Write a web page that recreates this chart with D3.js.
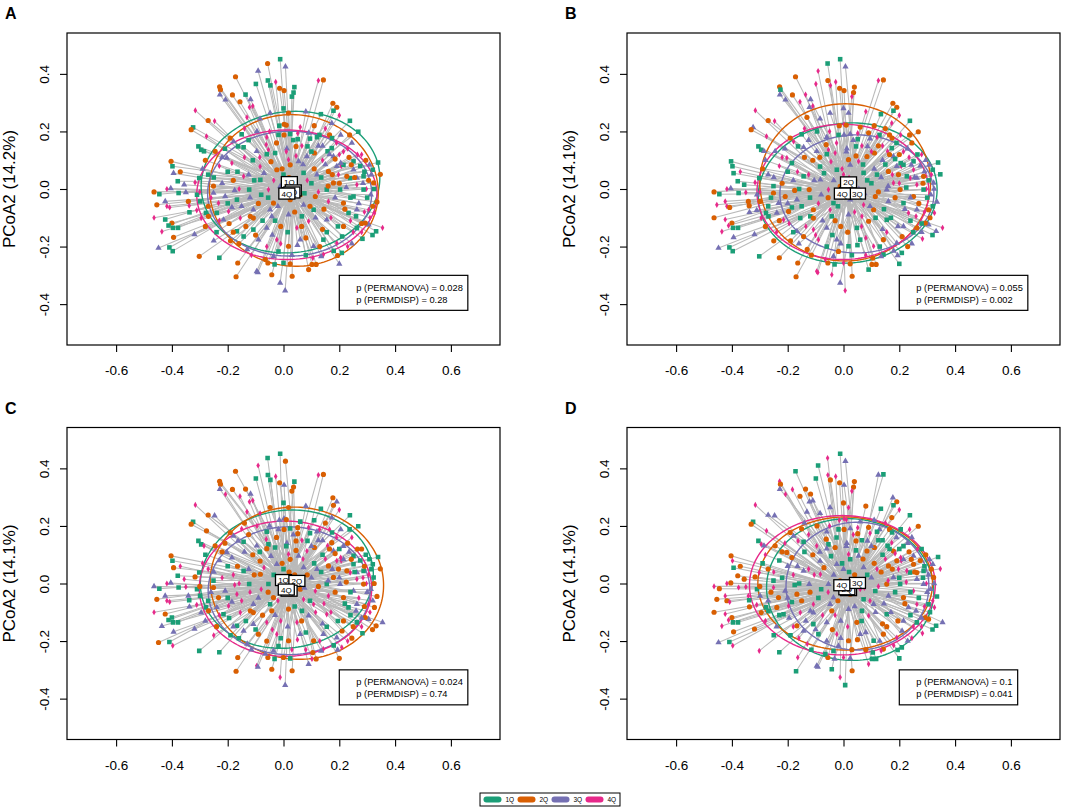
<!DOCTYPE html>
<html><head><meta charset="utf-8">
<script src="https://cdn.jsdelivr.net/npm/d3@7"></script>
<style>body{margin:0;background:#fff} svg{display:block;font-family:"Liberation Sans",Arial,sans-serif}</style>
</head><body><svg id="chart" width="1084" height="812"></svg>
<script>
// ---------------- DATA ----------------
const groupNames = ["1Q","2Q","3Q","4Q"];
const groupColors = ["#1b9e77","#d95f02","#7570b3","#e7298a"];
const xTicks = [-0.6,-0.4,-0.2,0.0,0.2,0.4,0.6];
const yTicks = [-0.4,-0.2,0.0,0.2,0.4];
const panelLetters = ["A","B","C","D"];
const yTitles = ["PCoA2 (14.2%)","PCoA2 (14.1%)","PCoA2 (14.1%)","PCoA2 (14.1%)"];
const permanovaP = ["0.028","0.055","0.024","0.1"];
const permdispP = ["0.28","0.002","0.74","0.041"];

const pcoa1 = [
-0.012,0.007,-0.057,-0.091,-0.172,-0.028,-0.099,-0.056,-0.047,-0.014,
0.002,0.039,0.036,0.030,-0.229,-0.226,-0.228,-0.183,-0.136,-0.118,
-0.156,-0.208,-0.110,-0.122,0.125,0.143,0.177,0.191,0.179,0.200,
0.080,0.134,0.018,-0.048,-0.131,-0.316,-0.270,-0.247,-0.084,0.238,
0.002,0.010,0.173,-0.324,-0.331,0.268,-0.276,-0.018,0.002,0.024,
0.051,0.165,0.129,0.174,0.237,0.205,-0.305,-0.295,-0.285,-0.191,
-0.179,-0.163,-0.143,-0.062,-0.054,-0.096,-0.060,0.012,0.045,0.051,
0.086,0.066,0.125,0.158,0.173,0.111,0.179,0.185,0.191,0.251,
0.243,0.207,0.308,0.339,0.320,0.347,0.287,0.263,0.239,0.197,
-0.403,-0.398,-0.394,-0.370,-0.379,-0.376,-0.404,-0.418,-0.464,-0.445,
-0.424,-0.454,-0.418,-0.408,-0.464,-0.424,-0.400,-0.412,-0.396,-0.378,
-0.436,-0.448,-0.409,-0.397,-0.394,-0.356,-0.350,-0.341,-0.338,-0.337,
-0.302,-0.317,-0.310,-0.299,-0.311,-0.278,-0.269,-0.295,-0.302,-0.319,
-0.230,-0.164,-0.170,-0.096,-0.092,-0.056,-0.042,-0.012,0.006,0.031,
0.000,-0.032,0.024,0.102,0.117,0.143,0.135,0.194,0.209,0.245,
0.283,0.319,0.332,0.355,0.305,0.293,0.326,0.335,0.313,0.297,
-0.203,-0.123,-0.159,-0.083,-0.012,-0.054,-0.185,-0.167,-0.108,-0.119,
-0.048,0.024,0.114,0.120,0.155,0.179,0.227,0.203,0.161,0.215,
0.233,0.263,0.305,0.287,0.323,0.263,0.251,0.155,0.215,0.263,
0.280,0.060,0.108,0.143,0.191,0.048,0.018,0.066,0.090,-0.060,
-0.042,-0.108,-0.108,-0.155,-0.167,-0.143,-0.090,-0.024,0.018,-0.018,
-0.036,-0.084,-0.030,0.018,0.024,0.072,0.084,0.095,0.054,0.161,
0.150,0.200,0.215,0.251,0.290,0.305,-0.125,-0.110,-0.024,-0.080,
-0.143,-0.251,-0.233,-0.251,-0.209,-0.245,-0.197,-0.215,-0.239,-0.036,
0.108,0.072,-0.200,-0.230,-0.180,0.040,0.100,0.140,0.060,-0.010,
0.140,0.240,-0.060,0.080,-0.130,-0.190,0.230,-0.150,-0.050,0.110,
0.280,-0.270,-0.280,0.000,0.200,
-0.280,-0.260,-0.240,-0.220,-0.210,-0.195,-0.185,-0.175,-0.165,-0.160,
-0.150,-0.140,-0.135,-0.125,-0.120,-0.115,-0.105,-0.100,-0.095,-0.090,
-0.085,-0.075,-0.070,-0.065,-0.060,-0.055,-0.045,-0.040,-0.035,-0.030,
-0.025,-0.020,-0.015,-0.010,-0.005,0.005,0.010,0.015,0.020,0.030,
0.035,0.040,0.045,0.050,0.055,0.060,0.065,0.070,0.075,0.080,
0.085,0.090,0.095,0.100,0.105,0.110,0.115,0.120,0.125,0.130,
0.135,0.140,0.145,0.150,0.155,0.160,0.165,0.170,0.175,0.180,
0.185,0.190,0.195,0.200,0.205,0.210,0.215,0.220,0.225,0.230,
0.235,0.240,0.245,0.250,0.255,0.260,0.265,0.270,0.275,0.280,
0.285,0.290,0.295,0.300,0.310,0.315,0.320,0.325,-0.290,-0.300,
-0.270,-0.250,-0.230,-0.220,-0.200,-0.180,-0.250,-0.140,0.000,0.090
];
const pcoa2 = [
0.451,0.425,0.436,0.410,0.390,0.372,0.365,0.377,0.360,0.350,
0.342,0.354,0.335,0.321,0.355,0.345,0.328,0.327,0.328,0.311,
0.303,0.310,0.288,0.284,0.377,0.379,0.298,0.284,0.272,0.256,
0.269,0.260,0.264,0.264,0.249,0.273,0.238,0.236,0.244,0.237,
0.225,0.222,0.229,0.214,0.206,0.199,0.183,0.188,0.188,0.191,
0.194,0.188,0.188,0.177,0.188,0.188,0.148,0.136,0.131,0.177,
0.165,0.148,0.145,0.154,0.136,0.131,0.121,0.140,0.148,0.173,
0.148,0.150,0.150,0.131,0.142,0.125,0.113,0.104,0.079,0.096,
0.084,0.079,0.084,0.092,0.067,0.051,0.044,0.038,0.038,0.050,
0.096,0.079,0.055,0.060,0.027,-0.014,0.002,0.000,-0.010,-0.018,
-0.043,-0.055,-0.060,-0.064,-0.100,-0.106,-0.118,-0.127,-0.135,-0.135,
-0.148,-0.205,-0.203,-0.216,-0.168,0.015,-0.012,-0.043,-0.058,-0.081,
0.038,0.023,-0.020,-0.043,-0.074,-0.083,-0.095,-0.101,-0.234,-0.158,
-0.239,-0.257,-0.305,-0.286,-0.290,-0.257,-0.298,-0.326,-0.353,-0.303,
-0.257,-0.262,-0.260,-0.262,-0.262,-0.228,-0.234,-0.231,-0.222,-0.190,
-0.173,-0.160,-0.147,-0.135,-0.124,-0.118,-0.083,-0.045,-0.020,0.000,
0.108,-0.002,0.000,0.032,0.009,-0.002,-0.064,-0.037,-0.072,-0.095,
-0.072,-0.037,-0.026,0.050,-0.002,0.021,0.044,-0.002,-0.043,-0.049,
-0.083,-0.072,-0.072,-0.002,0.021,0.015,-0.026,-0.107,-0.130,-0.135,
-0.150,-0.176,-0.199,-0.176,-0.188,-0.135,-0.089,-0.095,-0.112,-0.135,
-0.095,-0.141,-0.101,-0.101,-0.147,-0.165,-0.176,-0.176,-0.199,-0.217,
-0.234,0.078,0.125,0.102,0.084,0.056,0.113,0.175,0.096,0.061,
0.085,0.120,0.084,0.067,0.060,0.030,0.050,0.100,0.067,-0.020,
0.044,-0.014,-0.049,0.010,-0.026,0.131,-0.078,-0.107,-0.083,-0.049,
-0.072,-0.055,0.060,0.080,0.030,0.030,0.020,0.100,-0.020,-0.130,
-0.140,-0.110,-0.200,-0.230,-0.210,-0.180,0.140,0.190,0.200,0.220,
0.120,0.050,-0.130,0.050,-0.260,
0.100,-0.030,-0.150,0.020,0.140,-0.120,0.090,-0.005,0.060,-0.190,
-0.060,0.110,-0.130,0.170,-0.030,-0.230,0.030,-0.160,0.200,-0.050,
0.110,-0.110,0.055,-0.245,0.180,-0.030,0.095,-0.160,0.030,-0.110,
0.160,-0.060,0.220,-0.190,0.070,-0.020,0.130,-0.150,0.040,-0.230,
0.170,-0.080,0.115,-0.195,0.000,0.215,-0.130,0.085,-0.015,-0.170,
0.030,0.195,-0.060,0.130,-0.240,0.070,-0.100,0.180,-0.010,-0.200,
0.040,0.150,-0.070,0.210,-0.150,0.010,0.120,-0.100,0.050,-0.215,
-0.030,0.160,-0.130,0.020,0.090,-0.165,0.130,-0.070,0.005,-0.200,
0.110,-0.030,0.160,-0.150,0.040,-0.095,0.120,-0.050,0.080,-0.120,
0.020,-0.080,0.100,-0.030,-0.100,0.050,-0.060,0.000,0.070,-0.010,
-0.060,0.040,-0.110,0.110,-0.050,-0.150,-0.180,0.210,0.280,-0.280
];
const groupsA = [
1,3,2,3,2,4,1,1,1,2, 2,1,1,1,2,2,3,2,1,3, 2,3,4,4,4,2,2,2,1,4, 3,1,2,3,4,4,2,4,3,1,
2,2,3,1,2,1,4,1,2,1, 4,2,1,1,2,3,1,1,1,2, 3,1,1,4,4,3,1,3,2,1, 1,4,3,1,1,2,3,2,3,1,
2,4,3,1,1,2,1,3,1,4, 2,1,3,2,1,1,3,4,2,1, 3,2,4,4,4,1,2,1,1,1, 4,3,1,1,2,3,3,2,4,1,
1,4,1,1,4,1,2,4,2,3, 1,2,2,3,3,2,2,3,3,2, 1,1,2,2,2,4,3,2,1,3, 1,1,1,4,3,2,4,2,3,4,
3,1,4,1,3,4,3,1,3,2, 3,2,2,3,1,2,2,1,4,2, 1,3,4,1,2,4,1,3,2,1, 4,3,3,1,4,4,3,1,4,3,
3,1,2,4,1,1,3,4,2,1, 3,4,1,4,2,1,3,1,3,2, 3,4,1,3,1,2,3,1,2,1, 4,3,4,2,3,2,4,3,1,2,
1,3,1,4,2,4,1,4,2,2, 2,4,4,1,3,2,4,1,4,2, 4,1,2,1,3,
2,4,1,3,1,2,4,3,1,2, 3,4,2,1,3,4,1,2,3,2, 4,1,3,2,4,1,2,3,4,1, 2,3,1,4,2,3,4,1,2,3,
1,2,4,3,1,4,2,3,1,2, 4,3,2,1,4,2,3,1,4,2, 1,3,2,4,1,2,3,4,2,1, 3,4,1,2,3,1,4,2,3,4,
2,1,3,4,2,1,4,3,1,2, 3,4,2,1,4,3,2,1,3,4, 2,1,4,3,1,2,3,4,1,2
];
const groupsB = [
1,3,1,4,2,4,4,2,4,2, 2,2,2,4,2,1,3,2,4,3, 4,3,4,3,4,2,2,2,1,4, 4,1,3,3,2,4,2,4,3,1,
4,2,4,3,2,2,4,1,3,3, 4,2,1,2,2,4,1,1,3,2, 4,1,3,2,4,3,1,3,1,1, 3,4,2,4,1,2,3,1,3,1,
3,4,3,1,1,1,2,3,4,2, 1,1,1,4,1,1,3,4,2,1, 4,4,4,2,2,4,2,4,1,1, 4,3,1,1,3,1,4,2,2,3,
1,4,3,2,3,1,1,4,1,3, 2,2,2,4,4,2,4,3,4,2, 4,1,2,2,2,1,3,3,1,3, 4,1,3,4,3,2,4,3,3,4,
4,2,1,3,2,4,1,3,2,1, 4,3,2,1,3,4,1,2,3,1, 4,3,2,1,3,4,2,1,3,2, 3,1,4,2,3,1,3,4,2,3,
1,4,2,1,3,2,4,3,1,2, 3,1,4,2,3,1,2,3,4,2, 1,2,1,4,3,1,4,2,1,3, 1,2,3,1,2,3,2,4,3,1,
2,4,1,4,3,2,1,3,1,2, 3,1,1,4,2,2,3,1,4,2, 4,3,2,4,1,
3,1,4,2,3,4,1,2,4,3, 1,2,4,3,1,2,3,4,1,4, 2,3,1,4,3,2,4,1,3,2, 4,1,2,3,4,1,3,2,4,1,
3,4,2,1,3,2,4,1,3,4, 1,2,3,4,2,3,1,4,2,1, 3,4,1,2,4,3,2,1,4,3, 2,1,3,4,1,2,4,3,1,2,
4,3,2,1,3,4,1,2,3,1, 2,4,3,1,2,4,1,3,2,4, 1,3,2,4,3,1,2,4,3,1
];
const groupsC = [
1,2,1,4,2,4,1,1,1,2, 3,1,2,2,2,2,3,2,2,3, 4,4,4,4,4,2,2,3,2,4, 3,1,2,2,4,4,2,3,4,1,
3,2,3,1,2,1,2,3,2,1, 2,4,4,1,1,3,1,1,4,2, 3,3,1,4,1,3,2,3,2,2, 1,4,3,4,2,2,3,2,4,1,
2,4,1,1,1,2,1,3,4,2, 2,1,2,4,1,1,3,4,3,1, 3,2,4,4,4,2,1,1,1,1, 3,2,1,4,3,4,4,3,1,3,
1,2,1,1,4,1,2,3,1,3, 1,2,2,4,3,2,2,4,3,2, 2,1,1,4,2,4,3,3,4,2, 1,2,2,3,3,2,2,2,3,4,
3,1,4,2,3,1,3,4,3,2, 1,2,4,3,1,2,2,3,4,2, 1,3,4,2,1,4,3,4,2,1, 4,3,2,3,3,4,2,1,3,4,
2,3,2,4,1,3,2,4,2,1, 3,2,1,4,2,3,4,1,3,2, 4,1,3,1,2,4,3,2,3,4, 1,2,2,1,3,2,4,1,3,2,
4,4,1,3,4,2,3,1,2,4, 3,1,2,4,3,1,2,4,3,1, 2,4,3,1,2,
1,3,2,4,2,1,3,4,2,1, 4,3,1,2,4,3,2,1,4,3, 1,2,4,3,1,2,3,4,1,3, 2,4,3,1,2,4,1,3,2,4,
3,1,2,4,3,1,2,4,3,1, 2,4,1,3,2,1,4,3,2,4, 1,3,4,2,1,3,2,4,3,1, 2,4,1,3,4,2,3,1,2,4,
3,1,4,2,1,3,2,4,1,3, 4,2,1,3,4,1,3,2,4,2, 1,3,4,2,1,3,4,2,1,3
];
const groupsD = [
1,3,4,1,1,4,1,4,2,2, 3,2,2,4,4,2,3,4,2,2, 2,4,3,3,3,1,3,2,1,4, 2,1,4,3,3,4,3,3,3,1,
4,4,2,1,2,2,4,1,2,3, 4,2,3,1,4,1,1,4,3,2, 3,4,1,2,1,4,3,3,2,2, 3,1,1,1,4,2,2,4,2,3,
2,4,3,1,3,4,1,2,1,4, 2,4,1,2,2,4,2,4,4,2, 4,2,2,4,2,4,2,4,1,1, 4,3,1,4,2,2,4,4,1,2,
4,2,1,3,4,1,1,2,4,2, 1,4,1,3,3,2,1,4,1,2, 4,3,3,1,1,2,4,1,1,4, 4,1,1,3,2,2,4,1,3,4,
2,3,1,4,2,3,1,2,4,3, 3,2,1,4,2,3,4,1,3,2, 3,4,1,3,2,3,4,1,3,1, 4,3,1,2,4,2,3,1,4,3,
2,1,3,4,2,3,1,4,2,3, 1,3,2,4,1,3,2,4,3,2, 4,1,3,2,1,3,4,2,3,1, 3,4,2,1,3,2,4,1,2,3,
3,1,3,1,4,2,3,1,4,3, 2,1,3,2,4,1,3,2,4,3, 1,2,4,3,1,
4,2,3,1,4,3,2,1,3,4, 2,1,3,4,2,1,4,3,2,1, 3,4,2,1,3,4,1,2,3,4, 1,2,4,3,1,2,3,4,1,2,
4,3,1,2,4,3,1,2,4,3, 1,2,4,3,1,2,3,1,4,3, 2,1,3,4,2,4,1,3,2,4, 1,3,2,1,4,3,1,2,4,3,
2,1,3,4,2,3,4,1,2,3, 1,4,2,3,1,2,4,3,1,2, 3,4,1,2,3,4,1,3,2,4
];

// group centroids (spider centres) and dispersion ellipses [cx, cy, rx, ry, angleDeg]
const centroidsA = [[0.021,0.024],[0.035,-0.005],[0.030,-0.012],[0.012,-0.016]];
const centroidsB = [[0.015,-0.014],[0.018,0.023],[0.050,-0.016],[-0.004,-0.016]];
const centroidsC = [[0.000,0.012],[0.048,0.009],[0.020,-0.025],[0.010,-0.021]];
const centroidsD = [[0.018,-0.023],[0.012,-0.020],[0.050,0.002],[-0.006,-0.006]];
const ellipsesA = [[0.025,0.024,0.321,0.245,6],[0.037,-0.005,0.303,0.263,-6],[0.022,-0.016,0.294,0.217,0],[0.012,-0.020,0.323,0.225,0]];
const ellipsesB = [[0.015,-0.014,0.321,0.243,5],[0.006,0.023,0.306,0.273,0],[0.048,-0.017,0.276,0.205,0],[-0.002,-0.010,0.308,0.235,0]];
const ellipsesC = [[0.012,0.015,0.311,0.239,7],[0.048,0.001,0.311,0.264,-5],[0.020,-0.025,0.290,0.222,0],[0.007,-0.018,0.309,0.235,0]];
const ellipsesD = [[0.024,-0.021,0.300,0.246,-4],[0.006,0.000,0.313,0.231,0],[0.050,-0.009,0.256,0.222,0],[-0.004,-0.006,0.333,0.242,0]];

const xLim = [-0.776, 0.776];
const yLim = [-0.542, 0.542];

// ---------------- DRAW ----------------
const svg = d3.select("#chart");
const panelGroups = [groupsA, groupsB, groupsC, groupsD];
const panelCentroids = [centroidsA, centroidsB, centroidsC, centroidsD];
const panelEllipses = [ellipsesA, ellipsesB, ellipsesC, ellipsesD];
const offsets = [[0,0],[560,0],[0,394.5],[560,394.5]];
const box = {l:67, r:500, t:33, b:345};
const x = d3.scaleLinear().domain(xLim).range([box.l, box.r]);
const y = d3.scaleLinear().domain(yLim).range([box.b, box.t]);
const symbolTypes = [d3.symbolSquare, d3.symbolCircle, d3.symbolTriangle, d3.symbolDiamond];
const symbolSizes = [21, 21, 17, 11];
const fmt = v => v.toFixed(1);
const idx = d3.range(pcoa1.length);

panelLetters.forEach((letter, pi) => {
  const groups = panelGroups[pi];
  const cents = panelCentroids[pi];
  const g = svg.append("g").attr("transform", `translate(${offsets[pi][0]},${offsets[pi][1]})`);
  const clipId = "clip" + pi;
  g.append("clipPath").attr("id", clipId).append("rect")
    .attr("x", box.l).attr("y", box.t).attr("width", box.r - box.l).attr("height", box.b - box.t);
  const plot = g.append("g").attr("clip-path", `url(#${clipId})`);

  // spider lines
  plot.append("g").selectAll("line").data(idx).join("line")
    .attr("x1", i => x(pcoa1[i])).attr("y1", i => y(pcoa2[i]))
    .attr("x2", i => x(cents[groups[i]-1][0])).attr("y2", i => y(cents[groups[i]-1][1]))
    .attr("stroke", "#bababa").attr("stroke-width", 1.05);

  // ellipses
  const theta = d3.range(0, 2*Math.PI + 0.001, Math.PI/90);
  plot.append("g").selectAll("path").data(panelEllipses[pi]).join("path")
    .attr("d", e => {
      const a = e[4] * Math.PI / 180;
      return d3.line()(theta.map(t => {
        const ex = e[0] + e[2]*Math.cos(t)*Math.cos(a) - e[3]*Math.sin(t)*Math.sin(a);
        const ey = e[1] + e[2]*Math.cos(t)*Math.sin(a) + e[3]*Math.sin(t)*Math.cos(a);
        return [x(ex), y(ey)];
      }));
    })
    .attr("fill", "none").attr("stroke", (e, k) => groupColors[k]).attr("stroke-width", 1.4);

  // points
  plot.append("g").selectAll("path").data(idx).join("path")
    .attr("transform", i => `translate(${x(pcoa1[i])},${y(pcoa2[i])})`)
    .attr("d", i => d3.symbol().type(symbolTypes[groups[i]-1]).size(symbolSizes[groups[i]-1])())
    .attr("fill", i => groupColors[groups[i]-1]);

  // centroid labels
  const lab = g.append("g").selectAll("g").data(cents).join("g")
    .attr("transform", c => `translate(${x(c[0])},${y(c[1])})`);
  lab.append("rect").attr("x", -8).attr("y", -5.5).attr("width", 16).attr("height", 11)
    .attr("fill", "#fff").attr("stroke", "#000").attr("stroke-width", 1.3);
  lab.append("text").attr("text-anchor", "middle").attr("y", 3).attr("font-size", 8)
    .text((c, k) => groupNames[k]);

  // frame
  g.append("rect").attr("x", box.l).attr("y", box.t).attr("width", box.r - box.l).attr("height", box.b - box.t)
    .attr("fill", "none").attr("stroke", "#000").attr("stroke-width", 1.2);

  // axes
  const xa = g.append("g").attr("transform", `translate(0,${box.b})`)
    .call(d3.axisBottom(x).tickValues(xTicks).tickFormat(fmt).tickSize(7).tickSizeOuter(0));
  xa.select(".domain").remove();
  xa.selectAll("line").attr("stroke", "#000").attr("stroke-width", 1.1);
  xa.selectAll("text").attr("font-size", 13.5).attr("font-family", "Liberation Sans, Arial, sans-serif")
    .attr("fill", "#000").attr("y", 0).attr("dy", null).attr("transform", "translate(0,30)");

  const ya = g.append("g").attr("transform", `translate(${box.l},0)`)
    .call(d3.axisLeft(y).tickValues(yTicks).tickFormat(fmt).tickSize(7).tickSizeOuter(0));
  ya.select(".domain").remove();
  ya.selectAll("line").attr("stroke", "#000").attr("stroke-width", 1.1);
  ya.selectAll("text").attr("font-size", 13.5).attr("font-family", "Liberation Sans, Arial, sans-serif")
    .attr("fill", "#000").attr("x", null).attr("dy", null)
    .attr("text-anchor", "middle").attr("transform", "translate(-18,0) rotate(-90)");

  // y title
  g.append("text").attr("transform", `translate(15,${(box.t + box.b)/2}) rotate(-90)`)
    .attr("text-anchor", "middle").attr("font-size", 17).text(yTitles[pi]);

  // panel letter
  g.append("text").attr("x", 5).attr("y", 19).attr("font-size", 16).attr("font-weight", "bold").text(letter);

  // statistics box
  const bx = x(0.2), by = y(-0.3);
  const st = g.append("g");
  const t1 = st.append("text").attr("x", bx + 17).attr("y", by + 15.5).attr("font-size", 9.3)
    .text(`p (PERMANOVA) = ${permanovaP[pi]}`);
  const t2 = st.append("text").attr("x", bx + 17).attr("y", by + 27.5).attr("font-size", 9.3)
    .text(`p (PERMDISP) = ${permdispP[pi]}`);
  const tw = Math.max(t1.node().getComputedTextLength(), t2.node().getComputedTextLength());
  st.insert("rect", "text").attr("x", bx).attr("y", by).attr("width", tw + 22).attr("height", 35)
    .attr("fill", "#fff").attr("stroke", "#000").attr("stroke-width", 1.2);
});

// legend
const leg = svg.append("g").attr("transform", "translate(480,793)");
leg.append("rect").attr("width", 140).attr("height", 13).attr("fill", "#fff").attr("stroke", "#000").attr("stroke-width", 1);
const items = leg.selectAll("g").data(groupNames).join("g").attr("transform", (d, k) => `translate(${3.5 + k*34},0)`);
items.append("rect").attr("y", 3.5).attr("width", 18).attr("height", 6).attr("rx", 3)
  .attr("fill", (d, k) => groupColors[k]);
items.append("text").attr("x", 22).attr("y", 8.8).attr("font-size", 6.5).text(d => d);
</script></body></html>
